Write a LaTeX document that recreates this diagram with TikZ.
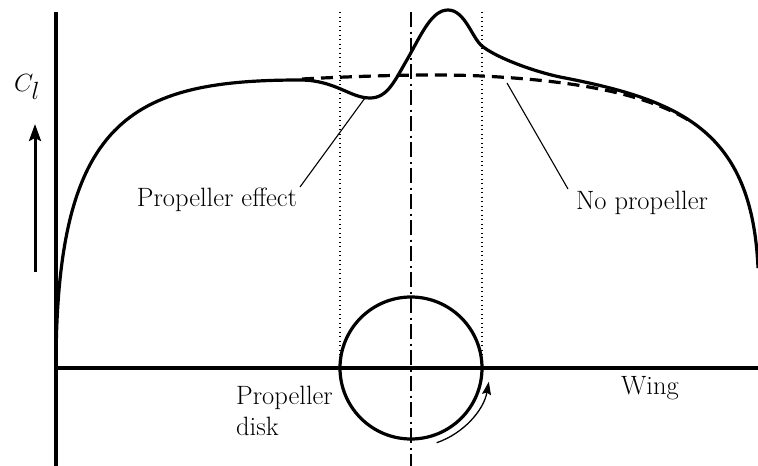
\documentclass[tikz,border=0pt]{standalone}
\usetikzlibrary{arrows.meta,calc}
\begin{document}
\begin{tikzpicture}[x=1pt,y=-1pt,
  thickline/.style={line width=3.2pt},
  leader/.style={line width=1.1pt},
  lbl/.style={font=\fontsize{26.5}{31}\selectfont, inner sep=0pt},
  guide/.style={line width=1.2pt, dash pattern=on 1.2pt off 3.3pt},
  centerline/.style={line width=1.3pt, dash pattern=on 15pt off 4.5pt on 2pt off 4.5pt}]
\useasboundingbox (0,0) rectangle (758,466);
% axes
\coordinate (o) at (56,368);
\coordinate (ytop) at (56,12);
\coordinate (ybot) at (56,466);
\coordinate (xend) at (758,368);
\draw[thickline] (ytop) -- (ybot);
\draw[thickline] (o) -- (xend);
% lift arrow and label
\coordinate (ab) at (35,272);
\coordinate (at) at (35,124);
\draw[line width=3pt,-{Stealth[length=17pt,width=12pt,inset=3pt]}] (ab) -- (at);
\node[inner sep=0pt,font=\fontsize{38}{43}\selectfont] (cl) at (27,87) {$C_l$};
% guide lines
\coordinate (c) at (411,368);
\draw[guide] (340,12) -- (340,368);
\draw[guide] (482,12) -- (482,368);
\draw[centerline] (411,12) -- (411,466);
% propeller disk
\draw[thickline] (c) circle[radius=71];
\draw[line width=1.3pt,-{Stealth[length=13pt,width=9pt,inset=2pt]}] ($(c)+(71:79)$) arc[start angle=71,end angle=10,radius=79];
% no propeller (dashed)
\draw[line width=3.2pt, dash pattern=on 12pt off 7pt]
 (302,79) .. controls (380,75) and (440,74) .. (482,76)
 .. controls (560,80) and (640,90) .. (690,121);
% with propeller (solid)
\draw[thickline, line join=round]
 (56,368) .. controls (56,120) and (130,80) .. (300,80)
 .. controls (335,80) and (350,98) .. (370,98)
 .. controls (388,98) and (395,80) .. (408,58)
 .. controls (422,33) and (432,10) .. (448,10)
 .. controls (465,10) and (472,38) .. (482,46)
 .. controls (494,56) and (528,70) .. (560,77)
 .. controls (680,100) and (752,130) .. (758,268);
% labels
\node[lbl] (pe) at (217,200) {Propeller effect};
\coordinate (pept) at (365,98);
\draw[leader] (300,187) -- (pept);
\node[lbl] (np) at (642,203) {No propeller};
\coordinate (nppt) at (507,83);
\draw[leader] (568,189) -- (nppt);
\node[lbl, align=left, anchor=north west] (pd) at (236,386) {Propeller\\disk};
\node[lbl] (wing) at (650,388) {Wing};
\end{tikzpicture}
\end{document}
